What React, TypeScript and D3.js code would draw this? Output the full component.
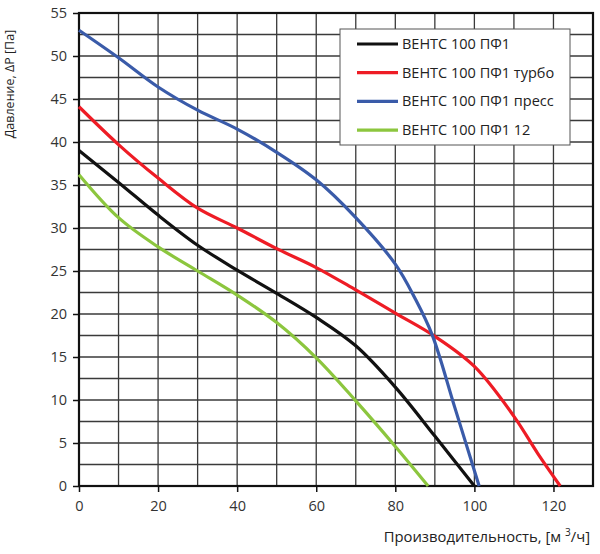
import React, { useRef, useEffect } from 'react';
import * as d3 from 'd3';

// Flow rate, m3/h and pressure, Pa
const seriesNames = ['ВЕНТС 100 ПФ1', 'ВЕНТС 100 ПФ1 турбо', 'ВЕНТС 100 ПФ1 пресс', 'ВЕНТС 100 ПФ1 12'];
const seriesColors = ['#111111', '#ee1c25', '#3a5ba9', '#8cc63e'];

const basicQ = [0, 10, 20, 30, 40, 50, 60, 70, 80, 90, 100];
const basicP = [39, 35.3, 31.5, 28.0, 25.1, 22.4, 19.6, 16.3, 11.5, 5.8, 0];

const turboQ = [0, 10, 20, 30, 40, 50, 60, 70, 80, 90, 100, 110, 116, 121.7];
const turboP = [44.1, 39.7, 35.8, 32.3, 30.0, 27.6, 25.4, 22.8, 20.1, 17.4, 13.9, 8.1, 3.8, 0];

const pressQ = [0, 10, 20, 30, 40, 50, 60, 70, 80, 85, 89.3, 95, 101.2];
const pressP = [53, 49.8, 46.4, 43.7, 41.5, 38.8, 35.6, 31.2, 25.8, 21.8, 17.6, 9.2, 0];

const q12Q = [0, 10, 20, 30, 40, 50, 60, 70, 80, 88.3];
const q12P = [36.2, 31.2, 27.8, 25.0, 22.2, 19.0, 14.9, 9.9, 4.6, 0];

const xTicks = [0, 20, 40, 60, 80, 100, 120];
const yTicks = [0, 5, 10, 15, 20, 25, 30, 35, 40, 45, 50, 55];

const W = 600;
const H = 554;
const font = '"Open Sans", "DejaVu Sans", sans-serif';

export default function App() {
  const svgRef = useRef<SVGSVGElement>(null);

  useEffect(() => {
    if (!svgRef.current) return;
    const svg = d3.select(svgRef.current);
    svg.selectAll('*').remove();

    const x = d3.scaleLinear().domain([0, 130]).range([79, 593]);
    const y = d3.scaleLinear().domain([0, 55]).range([486, 13]);

    // grid: every 10 on x, every 2.5 on y
    const grid = svg.append('g');
    grid.selectAll('line.v')
      .data(d3.range(10, 130, 10))
      .enter().append('line')
      .attr('x1', d => x(d)).attr('x2', d => x(d))
      .attr('y1', y(0)).attr('y2', y(55))
      .attr('stroke', '#3a3a3a').attr('stroke-width', 1.3);
    grid.selectAll('line.h')
      .data(d3.range(2.5, 55, 2.5))
      .enter().append('line')
      .attr('x1', x(0)).attr('x2', x(130))
      .attr('y1', d => y(d)).attr('y2', d => y(d))
      .attr('stroke', '#3a3a3a').attr('stroke-width', 1.3);

    // frame
    svg.append('rect')
      .attr('x', x(0)).attr('y', y(55))
      .attr('width', x(130) - x(0)).attr('height', y(0) - y(55))
      .attr('fill', 'none').attr('stroke', '#111').attr('stroke-width', 2.2);

    // axes
    const xAxis = svg.append('g')
      .attr('transform', `translate(0,${y(0)})`)
      .call(d3.axisBottom(x).tickValues(xTicks).tickSize(6).tickPadding(9));
    const yAxis = svg.append('g')
      .attr('transform', `translate(${x(0)},0)`)
      .call(d3.axisLeft(y).tickValues(yTicks).tickSize(6).tickPadding(6));
    [xAxis, yAxis].forEach(a => {
      a.select('.domain').remove();
      a.selectAll('line').attr('stroke', '#111').attr('stroke-width', 1.5);
      a.selectAll('text')
        .attr('font-family', font).attr('font-size', 14.5).attr('fill', '#333');
    });

    // curves
    const line = d3.line<[number, number]>()
      .x(d => x(d[0]))
      .y(d => y(d[1]))
      .curve(d3.curveCatmullRom.alpha(0.5));
    const series: [number, number][][] = [
      basicQ.map((q, i) => [q, basicP[i]]),
      turboQ.map((q, i) => [q, turboP[i]]),
      pressQ.map((q, i) => [q, pressP[i]]),
      q12Q.map((q, i) => [q, q12P[i]]),
    ];
    const drawOrder = [3, 0, 1, 2];
    drawOrder.forEach(i => {
      svg.append('path')
        .attr('d', line(series[i]))
        .attr('fill', 'none')
        .attr('stroke', seriesColors[i])
        .attr('stroke-width', 3.2)
        .attr('stroke-linecap', 'butt');
    });

    // legend
    const legend = svg.append('g').attr('transform', 'translate(340,29)');
    legend.append('rect')
      .attr('width', 230).attr('height', 116)
      .attr('fill', '#fff').attr('stroke', '#555').attr('stroke-width', 1);
    const item = legend.selectAll('g.item')
      .data(seriesNames)
      .enter().append('g')
      .attr('transform', (d, i) => `translate(0,${15 + i * 28.7})`);
    item.append('line')
      .attr('x1', 17).attr('x2', 58)
      .attr('stroke', (d, i) => seriesColors[i])
      .attr('stroke-width', 3.2);
    item.append('text')
      .attr('x', 62).attr('y', 5)
      .attr('font-family', font).attr('font-size', 14.5).attr('fill', '#222')
      .text(d => d);

    // axis titles
    svg.append('text')
      .attr('transform', 'translate(14,84) rotate(-90)')
      .attr('text-anchor', 'middle')
      .attr('font-family', font).attr('font-size', 12.5).attr('fill', '#222')
      .text('Давление, ΔP [Па]');
    const xt = svg.append('text')
      .attr('x', 590).attr('y', 542)
      .attr('text-anchor', 'end')
      .attr('font-family', font).attr('font-size', 14.8).attr('fill', '#222');
    xt.append('tspan').text('Производительность, [м ');
    xt.append('tspan').attr('dy', -6).attr('font-size', 10).text('3');
    xt.append('tspan').attr('dy', 6).text('/ч]');
  }, []);

  return (
    <svg
      ref={svgRef}
      width={W}
      height={H}
      style={{ position: 'absolute', left: 0, top: 0, background: '#fff' }}
    />
  );
}
